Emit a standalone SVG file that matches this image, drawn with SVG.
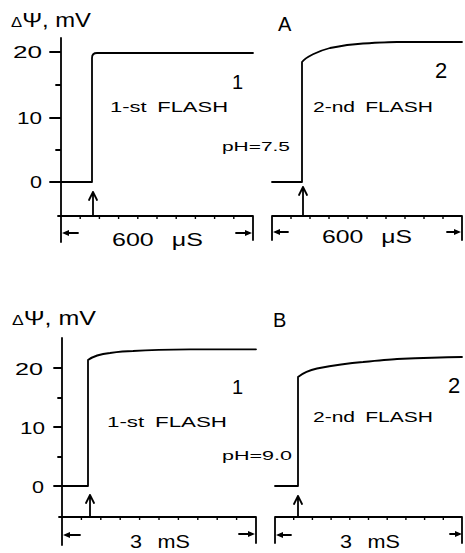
<svg xmlns="http://www.w3.org/2000/svg" width="465" height="553" viewBox="0 0 465 553">
<style>
.ln{stroke:#000;stroke-width:1.8;fill:none;stroke-linecap:round;stroke-linejoin:round}
.tk{stroke:#000;stroke-width:1.4;fill:none}
.ah{fill:#000;stroke:none}
text{font-family:"Liberation Sans",Arial,sans-serif;fill:#000}
.big{font-size:20px}
.num{font-size:17px}
.lab{font-size:14.5px;word-spacing:3px}
.ph{font-size:13px}
.sc{font-size:18px;word-spacing:8px}
</style>
<rect width="465" height="553" fill="#fff"/>
<g id="panelA">
  <g id="A-labels">
    <text x="11" y="27" textLength="80" lengthAdjust="spacingAndGlyphs"><tspan font-size="14">Δ</tspan><tspan class="big">Ψ, mV</tspan></text>
    <text x="278" y="31" font-size="20">A</text>
    <text class="num" x="13" y="58" textLength="29" lengthAdjust="spacingAndGlyphs">20</text>
    <text class="num" x="17" y="124" textLength="25" lengthAdjust="spacingAndGlyphs">10</text>
    <text class="num" x="30" y="188" textLength="12" lengthAdjust="spacingAndGlyphs">0</text>
  </g>
  <g id="A-axes">
    <path class="ln" d="M61 38V242M50 52H61M56 85H61M50 118H61M56 150H61M50 182H61M58 216H253V240M272 240V216H462V240"/>
    <path class="tk" d="M80.2 216v3M99.4 216v3M118.6 216v3M137.8 216v3M157 216v3M176.2 216v3M195.4 216v3M214.6 216v3M233.8 216v3M291 216v3M310 216v3M329 216v3M348 216v3M367 216v3M386 216v3M405 216v3M424 216v3M443 216v3"/>
  </g>
  <g id="A-flash1">
    <path class="ln" d="M61 182H92V58Q92 53 97 53H253"/>
    <path class="ln" d="M93 216V192M89 200L93 192L97 200"/>
    <text x="232" y="89" font-size="20">1</text>
    <text class="lab" x="110" y="112" textLength="118" lengthAdjust="spacingAndGlyphs">1-st FLASH</text>
  </g>
  <g id="A-flash2">
    <path class="ln" d="M272 182H302V62C306 57 318 51 330 48C345 45 355 44 363 43.5C380 42.5 390 42 397 42H462"/>
    <path class="ln" d="M303 216V187M299 195L303 187L307 195"/>
    <text x="435" y="78" font-size="22">2</text>
    <text class="lab" x="313" y="112" textLength="120" lengthAdjust="spacingAndGlyphs">2-nd FLASH</text>
    <text class="ph" x="222" y="151" textLength="68" lengthAdjust="spacingAndGlyphs">pH=7.5</text>
  </g>
  <g id="A-scale">
    <path class="ln" d="M66 233H78M236 233H249M278 232H288M447 232H458"/>
    <path class="ah" d="M62 233l7-3v6zM252 233l-7-3v6zM273 232l7-3v6zM461 232l-7-3v6z"/>
    <text class="sc" x="112" y="246" textLength="91" lengthAdjust="spacingAndGlyphs">600 μS</text>
    <text class="sc" x="322" y="243" textLength="90" lengthAdjust="spacingAndGlyphs">600 μS</text>
  </g>
</g>
<g id="panelB">
  <g id="B-labels">
    <text x="12" y="325" textLength="84" lengthAdjust="spacingAndGlyphs"><tspan font-size="14">Δ</tspan><tspan class="big">Ψ, mV</tspan></text>
    <text x="273" y="327" font-size="20">B</text>
    <text class="num" x="15" y="375" textLength="28" lengthAdjust="spacingAndGlyphs">20</text>
    <text class="num" x="20" y="434" textLength="25" lengthAdjust="spacingAndGlyphs">10</text>
    <text class="num" x="32" y="493" textLength="12" lengthAdjust="spacingAndGlyphs">0</text>
  </g>
  <g id="B-axes">
    <path class="ln" d="M62 338V545M54 368H62M58 398H62M54 427H62M58 457H62M54 486H62M59 517H256V543M275 543V517H462V543"/>
    <path class="tk" d="M81.4 517v3M100.8 517v3M120.2 517v3M139.6 517v3M159 517v3M178.4 517v3M197.8 517v3M217.2 517v3M236.6 517v3M293.7 517v3M312.4 517v3M331.1 517v3M349.8 517v3M368.5 517v3M387.2 517v3M405.9 517v3M424.6 517v3M443.3 517v3"/>
  </g>
  <g id="B-flash1">
    <path class="ln" d="M62 486H88V360C92 357 100 354 110 353C120 351.5 126 351 133 351C150 350 170 349.5 190 349.3H256"/>
    <path class="ln" d="M90 517V495M86 503L90 495L94 503"/>
    <text x="232" y="394" font-size="20">1</text>
    <text class="lab" x="107" y="427" textLength="120" lengthAdjust="spacingAndGlyphs">1-st FLASH</text>
  </g>
  <g id="B-flash2">
    <path class="ln" d="M275 486H298V377C303 373 310 370 317 368.5C335 365 350 363 363 362C378 360.5 388 359.5 397 359C420 358 440 357.3 462 357"/>
    <path class="ln" d="M298 517V496M294 504L298 496L302 504"/>
    <text x="448" y="393" font-size="22">2</text>
    <text class="lab" x="313" y="422" textLength="120" lengthAdjust="spacingAndGlyphs">2-nd FLASH</text>
    <text class="ph" x="222" y="460" textLength="70" lengthAdjust="spacingAndGlyphs">pH=9.0</text>
  </g>
  <g id="B-scale">
    <path class="ln" d="M67 535H80M239 534H252M280 535H291M450 534H459"/>
    <path class="ah" d="M63 535l7-3v6zM255 534l-7-3v6zM276 535l7-3v6zM462 534l-7-3v6z"/>
    <text class="sc" x="130" y="548" textLength="60" lengthAdjust="spacingAndGlyphs">3 mS</text>
    <text class="sc" x="340" y="548" textLength="60" lengthAdjust="spacingAndGlyphs">3 mS</text>
  </g>
</g>
</svg>
